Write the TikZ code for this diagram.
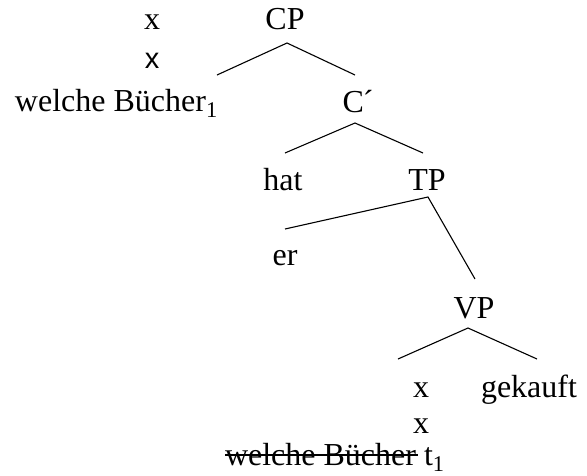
\documentclass[tikz,border=0pt]{standalone}
\usepackage{fontspec}
\setmainfont{Liberation Serif}
\newfontfamily\sansx{Liberation Sans}
\begin{document}
\begin{tikzpicture}[x=1pt,y=-1pt,
  lbl/.style={inner sep=0pt,outer sep=0pt,font=\fontsize{32}{38}\selectfont},
  edge/.style={line width=1.1pt}]
\useasboundingbox (0,0) rectangle (587,475);
% labels
\node[lbl,anchor=base] (x1) at (152,29) {x};
\node[lbl,anchor=base] (CP) at (285,29) {CP};
\node[lbl,anchor=base,font=\fontsize{29}{35}\sansx] (x2) at (152,68) {x};
\node[lbl,anchor=base west] (wb1) at (15,111) {welche Bücher\textsubscript{1}};
\node[lbl,anchor=base] (Cb) at (358,112) {C\kern-1pt´};
\node[lbl,anchor=base] (hat) at (283,190) {hat};
\node[lbl,anchor=base] (TP) at (427,190) {TP};
\node[lbl,anchor=base] (er) at (285,265) {er};
\node[lbl,anchor=base] (VP) at (474,318) {VP};
\node[lbl,anchor=base] (x3) at (421,397) {x};
\node[lbl,anchor=base west] (gek) at (481,397) {gekauft};
\node[lbl,anchor=base] (x4) at (421,433) {x};
\node[lbl,anchor=base west] (wb2) at (225,465) {welche Bücher};
\node[lbl,anchor=base west] (t1) at ([xshift=8pt]wb2.base east) {t\textsubscript{1}};
% connector ends
\coordinate (cpA) at (287,43);
\coordinate (cpL) at (217,75);
\coordinate (cpR) at (355,75);
\coordinate (cbA) at (355,123);
\coordinate (cbL) at (285,153);
\coordinate (cbR) at (423,153);
\coordinate (tpA) at (428,197);
\coordinate (tpL) at (285,229);
\coordinate (tpR) at (475,279);
\coordinate (vpA) at (468,328);
\coordinate (vpL) at (398,359);
\coordinate (vpR) at (537,359);
\draw[edge] (cpL) -- (cpA) -- (cpR);
\draw[edge] (cbL) -- (cbA) -- (cbR);
\draw[edge] (tpL) -- (tpA) -- (tpR);
\draw[edge] (vpL) -- (vpA) -- (vpR);
% strike-through
\draw[line width=1.4pt] ([yshift=10pt]wb2.base west) -- ([xshift=2pt,yshift=10pt]wb2.base east);
\end{tikzpicture}
\end{document}
